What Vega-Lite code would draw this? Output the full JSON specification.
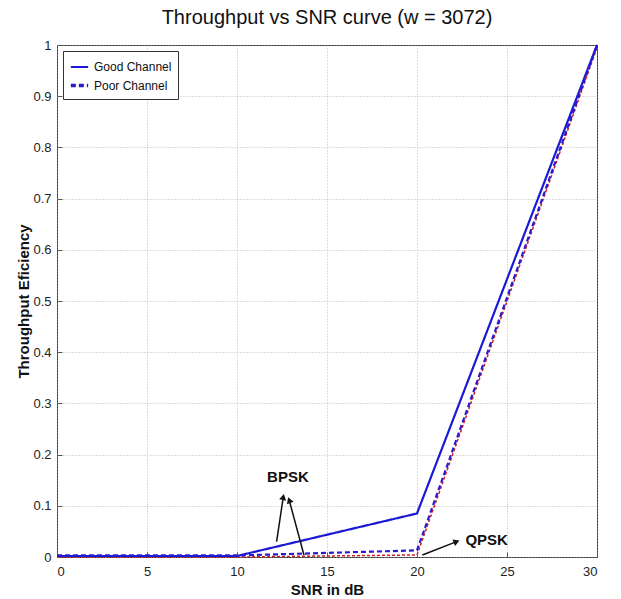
{
  "$schema": "https://vega.github.io/schema/vega-lite/v6.json",
  "width": 540,
  "height": 512,
  "autosize": {"type": "none"},
  "padding": {"left": 57, "top": 45, "right": 24, "bottom": 42},
  "background": "white",
  "title": {"text": "Throughput vs SNR curve (w = 3072)", "fontSize": 20, "fontWeight": "normal", "font": "Liberation Sans", "offset": 11, "color": "#111"},
  "config": {
    "view": {"stroke": "#333", "strokeWidth": 1},
    "axis": {"labelFont": "Liberation Sans", "titleFont": "Liberation Sans", "labelFontSize": 13, "titleFontSize": 15, "titleFontWeight": "bold", "labelColor": "#222", "titleColor": "#111", "gridColor": "#aaa", "gridDash": [1, 2], "gridOpacity": 0.8, "domain": false, "tickColor": "#555", "tickSize": -5}
  },
  "datasets": {
    "curves": [
      {"snr": 0, "eff": 0.002, "series": "Good Channel"},
      {"snr": 10, "eff": 0.002, "series": "Good Channel"},
      {"snr": 20, "eff": 0.085, "series": "Good Channel"},
      {"snr": 30, "eff": 1.0, "series": "Good Channel"},
      {"snr": 0, "eff": 0.003, "series": "Poor Channel"},
      {"snr": 10, "eff": 0.003, "series": "Poor Channel"},
      {"snr": 20, "eff": 0.013, "series": "Poor Channel"},
      {"snr": 30, "eff": 1.0, "series": "Poor Channel"}
    ],
    "red": [
      {"snr": 0, "eff": 0.0},
      {"snr": 10, "eff": 0.0},
      {"snr": 20, "eff": 0.004},
      {"snr": 30, "eff": 0.995}
    ],
    "arrows": [
      {"x1": 12.2, "y1": 0.030, "x2": 12.57, "y2": 0.117, "angle": 12},
      {"x1": 13.72, "y1": 0.004, "x2": 12.9, "y2": 0.111, "angle": -20},
      {"x1": 20.3, "y1": 0.004, "x2": 22.2, "y2": 0.030, "angle": 68}
    ],
    "labels": [
      {"x": 12.83, "y": 0.157, "text": "BPSK"},
      {"x": 23.87, "y": 0.033, "text": "QPSK"}
    ]
  },
  "layer": [
    {
      "data": {"name": "red"},
      "mark": {"type": "line", "color": "#d02020", "strokeWidth": 1.5, "strokeDash": [3, 2]},
      "encoding": {
        "x": {"field": "snr", "type": "quantitative", "scale": {"domain": [0, 30]}, "axis": {"values": [0, 5, 10, 15, 20, 25, 30], "title": "SNR in dB", "titlePadding": 4, "labelPadding": 13}},
        "y": {"field": "eff", "type": "quantitative", "scale": {"domain": [0, 1]}, "axis": {"values": [0, 0.1, 0.2, 0.3, 0.4, 0.5, 0.6, 0.7, 0.8, 0.9, 1], "format": "~g", "title": "Throughput Eficiency", "titlePadding": 1, "labelPadding": 11}}
      }
    },
    {
      "data": {"name": "curves"},
      "mark": {"type": "line", "strokeWidth": 2.2},
      "encoding": {
        "x": {"field": "snr", "type": "quantitative"},
        "y": {"field": "eff", "type": "quantitative"},
        "color": {"field": "series", "type": "nominal", "scale": {"domain": ["Good Channel", "Poor Channel"], "range": ["#1a1ad6", "#2a1ad0"]}, "legend": {"title": null, "orient": "top-left", "offset": 6, "strokeColor": "#333", "fillColor": "white", "padding": 6, "labelFont": "Liberation Sans", "labelFontSize": 12, "labelColor": "#111", "symbolType": "stroke", "symbolSize": 300, "symbolStrokeWidth": 2.5, "rowPadding": 2}},
        "strokeDash": {"field": "series", "type": "nominal", "scale": {"domain": ["Good Channel", "Poor Channel"], "range": [[1, 0], [5, 3]]}, "legend": null},
        "strokeWidth": {"field": "series", "type": "nominal", "scale": {"domain": ["Good Channel", "Poor Channel"], "range": [2, 3.5]}, "legend": null}
      }
    },
    {
      "data": {"name": "arrows"},
      "mark": {"type": "rule", "color": "#111", "strokeWidth": 1.5},
      "encoding": {
        "x": {"field": "x1", "type": "quantitative"},
        "y": {"field": "y1", "type": "quantitative"},
        "x2": {"field": "x2"},
        "y2": {"field": "y2"}
      }
    },
    {
      "data": {"name": "arrows"},
      "mark": {"type": "point", "shape": "triangle-up", "filled": true, "color": "#111", "size": 50, "opacity": 1},
      "encoding": {
        "x": {"field": "x2", "type": "quantitative"},
        "y": {"field": "y2", "type": "quantitative"},
        "angle": {"field": "angle", "type": "quantitative", "scale": null}
      }
    },
    {
      "data": {"name": "labels"},
      "mark": {"type": "text", "font": "Liberation Sans", "fontSize": 15, "fontWeight": "bold", "color": "#111"},
      "encoding": {
        "x": {"field": "x", "type": "quantitative"},
        "y": {"field": "y", "type": "quantitative"},
        "text": {"field": "text", "type": "nominal"}
      }
    }
  ]
}
